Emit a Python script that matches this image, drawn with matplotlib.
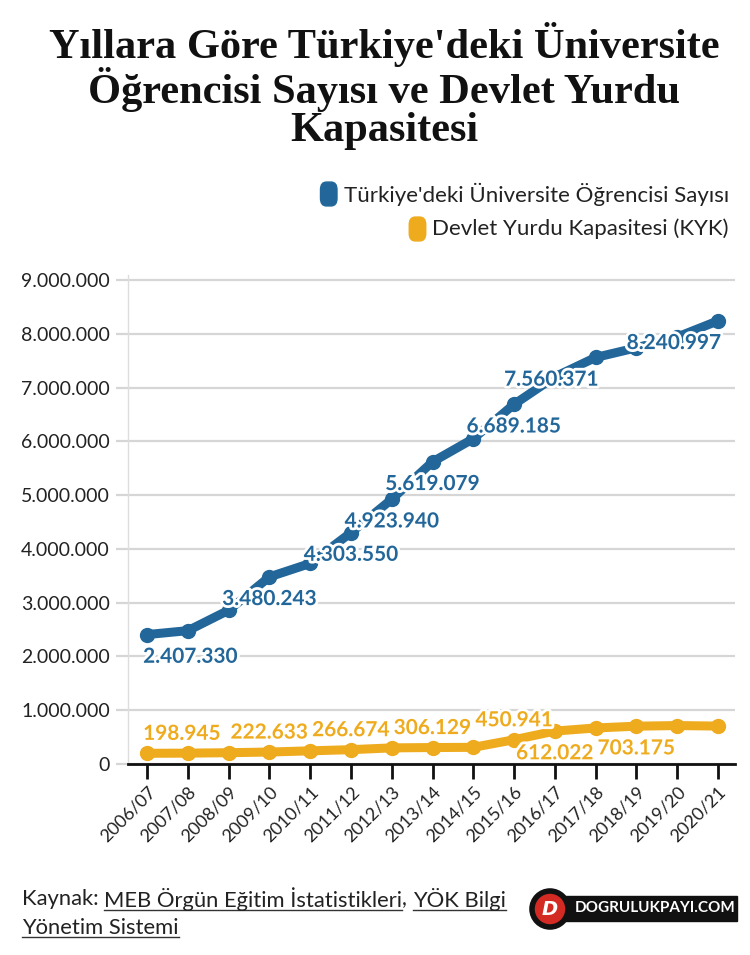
import matplotlib.pyplot as plt
import matplotlib.patheffects as pe
from matplotlib.patches import FancyBboxPatch, Ellipse, Rectangle
from matplotlib.lines import Line2D

years = ['2006/07', '2007/08', '2008/09', '2009/10', '2010/11', '2011/12', '2012/13',
         '2013/14', '2014/15', '2015/16', '2016/17', '2017/18', '2018/19', '2019/20', '2020/21']
students = [2407330, 2480000, 2860000, 3480243, 3730000, 4303550, 4923940,
            5619079, 6050000, 6689185, 7200000, 7560371, 7740000, 7940000, 8240997]
dorms = [198945, 202000, 210000, 222633, 245000, 266674, 300000,
         306129, 310000, 450941, 612022, 670000, 703175, 715000, 705000]
yticks = [0, 1000000, 2000000, 3000000, 4000000, 5000000, 6000000, 7000000, 8000000, 9000000]

# which points get a value label and how it is placed
student_labels = {0: 'left', 3: 'center', 5: 'center', 6: 'center', 7: 'center',
                  9: 'center', 11: 'right', 14: 'right'}
dorm_labels = {0: ('left', 'up'), 3: ('center', 'up'), 5: ('center', 'up'),
               7: ('center', 'up'), 9: ('center', 'up'), 10: ('center', 'down'),
               12: ('center', 'down')}

BLUE = '#23679a'
YELLOW = '#efab1e'
SANS = ['Lato', 'DejaVu Sans']


def fmt(v):
    return f'{v:,}'.replace(',', '.')


fig = plt.figure(figsize=(7.5, 9.55), dpi=100)
ax = fig.add_axes([0.1707, 0.2, 0.8093, 0.512])

x = list(range(len(years)))
ax.plot(x, students, color=BLUE, lw=6.5, marker='o', ms=10, solid_capstyle='round', zorder=3)
ax.plot(x, dorms, color=YELLOW, lw=6.5, marker='o', ms=10, solid_capstyle='round', zorder=3)

ax.set_xlim(-0.47, 14.42)
ax.set_ylim(0, 9093000)
ax.set_yticks(yticks)
ax.set_yticklabels([fmt(v) for v in yticks], fontsize=14, family=SANS, color='#222222')
ax.set_xticks(x)
ax.set_xticklabels(years, rotation=45, ha='right', rotation_mode='anchor',
                   fontsize=13, family=SANS, color='#222222')
ax.grid(axis='y', color='#d6d6d6', lw=1.6, zorder=0)
ax.tick_params(axis='y', length=9, color='#d6d6d6', width=1.6, pad=4)
ax.tick_params(axis='x', length=11, width=2, color='#111111', pad=3)
for s in ['top', 'right']:
    ax.spines[s].set_visible(False)
ax.spines['left'].set_color('#dddddd')
ax.spines['left'].set_linewidth(1)
ax.spines['bottom'].set_color('#111111')
ax.spines['bottom'].set_linewidth(2)

halo = [pe.withStroke(linewidth=4, foreground='white')]
for i, pos in student_labels.items():
    dx = {'left': -0.1, 'center': 0, 'right': 0.08}[pos]
    ax.annotate(fmt(students[i]), (i + dx, students[i]), xytext=(0, -16),
                textcoords='offset points', ha=pos, va='center', fontsize=15,
                fontweight='bold', color=BLUE, family=SANS, path_effects=halo, zorder=5)
for i, (pos, d) in dorm_labels.items():
    dx = {'left': -0.1, 'center': 0, 'right': 0}[pos]
    off = 14 if d == 'up' else -16
    ax.annotate(fmt(dorms[i]), (i + dx, dorms[i]), xytext=(0, off),
                textcoords='offset points', ha=pos, va='center', fontsize=15,
                fontweight='bold', color=YELLOW, family=SANS, path_effects=halo, zorder=5)

# title
fig.text(0.512, 1 - 22 / 955, "Yıllara Göre Türkiye'deki Üniversite\nÖğrencisi Sayısı ve Devlet Yurdu\nKapasitesi",
         ha='center', va='top', fontsize=30.5, fontweight='bold',
         family=['Liberation Serif', 'DejaVu Serif'], linespacing=1.0, color='#111111')

# legend
renderer = fig.canvas.get_renderer()
legend_items = [("Türkiye'deki Üniversite Öğrencisi Sayısı", BLUE, 1 - 194 / 955),
                ("Devlet Yurdu Kapasitesi (KYK)", YELLOW, 1 - 229 / 955)]
for label, col, yy in legend_items:
    t = fig.text(0.972, yy, label, ha='right', va='center', fontsize=16, family=SANS,
                 color='#222222')
    bb = t.get_window_extent(renderer)
    x0 = bb.x0 / 750
    fig.patches.append(FancyBboxPatch((x0 - 0.031, yy - 0.0125), 0.022, 0.025,
                                      boxstyle='round,pad=0,rounding_size=0.008',
                                      transform=fig.transFigure, color=col, zorder=3))

# source note with underlined links
parts1 = [('Kaynak: ', False), ('MEB Örgün Eğitim İstatistikleri', True), (', ', False),
          ('YÖK Bilgi', True)]
parts2 = [('Yönetim Sistemi', True)]
for parts, yy in [(parts1, 1 - 899 / 955), (parts2, 1 - 928 / 955)]:
    xx = 22 / 750
    for txt, ul in parts:
        t = fig.text(xx, yy, txt, ha='left', va='center', fontsize=15.8, family=SANS,
                     color='#222222')
        bb = t.get_window_extent(renderer)
        if ul:
            fig.lines.append(Line2D([bb.x0 / 750, bb.x1 / 750],
                                    [(bb.y0 + 1) / 955, (bb.y0 + 1) / 955],
                                    transform=fig.transFigure, color='#333333', lw=1))
        xx = bb.x1 / 750

# logo
fig.patches.append(Rectangle((555 / 750, 1 - 921 / 955), 182 / 750, 25 / 955,
                             transform=fig.transFigure, color='#111111', zorder=2))
fig.patches.append(Ellipse((550 / 750, 1 - 909 / 955), 36 / 750, 36 / 955,
                           transform=fig.transFigure, facecolor='#d42a24',
                           edgecolor='#111111', lw=4, zorder=3))
fig.text(550 / 750, 1 - 909 / 955, 'D', ha='center', va='center', fontsize=14,
         fontweight='bold', style='italic', color='white', zorder=4)
fig.text(655 / 750, 1 - 908 / 955, 'DOGRULUKPAYI.COM', ha='center', va='center',
         fontsize=11, fontweight='bold', family=SANS, color='white', zorder=4)

fig.savefig('out.png', dpi=100)
